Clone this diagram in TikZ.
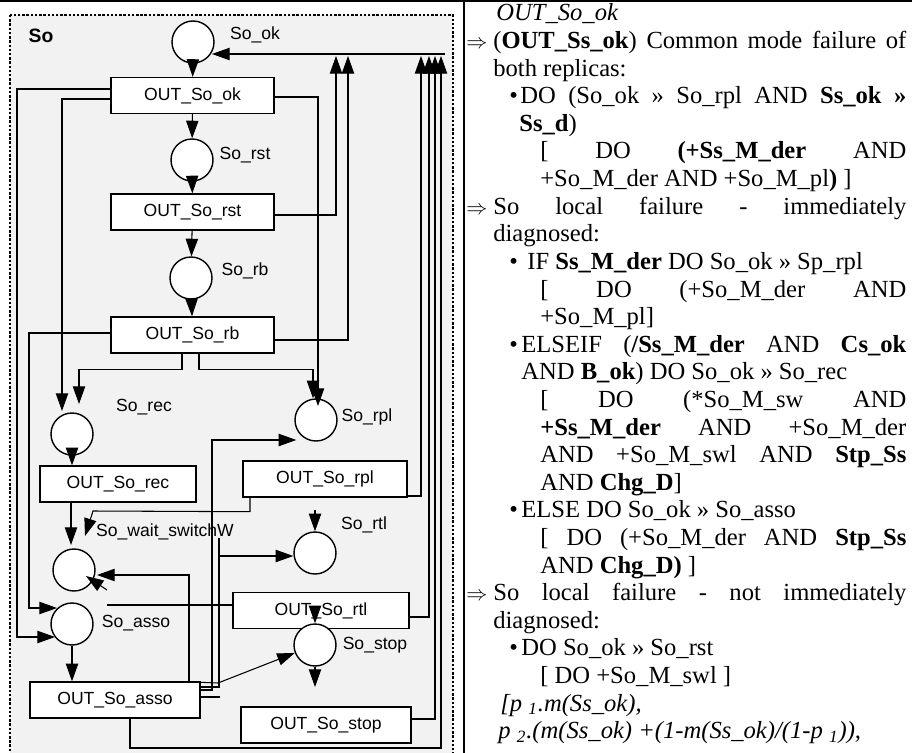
\documentclass[tikz,border=0pt]{standalone}
\usepackage{fontspec}
\setmainfont{Liberation Serif}
\setsansfont{Liberation Sans}
\usetikzlibrary{arrows.meta, positioning, calc}
\tikzstyle{place} = [circle, draw, fill=white, minimum size=0.84cm,
                     inner sep=0pt, line width=0.8pt]
\tikzstyle{trans} = [rectangle, draw, fill=white, minimum height=0.72cm,
                     inner sep=0pt, line width=0.8pt,
                     font=\sffamily\fontsize{10}{12}\selectfont]
\tikzstyle{lbl}   = [inner sep=0pt, font=\sffamily\fontsize{10}{12}\selectfont]
\tikzstyle{arrow} = [line width=0.6pt, -{Triangle[length=10pt,width=7pt]}]
\tikzstyle{wire}  = [line width=0.6pt]
\tikzstyle{txt}   = [anchor=base west, inner sep=0pt,
                     font=\fontsize{14}{16}\selectfont]
\tikzstyle{impl}  = [anchor=base west, inner sep=0pt,
                     font=\fontsize{12}{14}\selectfont]
\newlength{\pxu}\setlength{\pxu}{0.02cm}
\newcommand{\jline}[2]{\makebox[#1\pxu][s]{#2}}
\begin{document}
\begin{tikzpicture}[x=0.02cm, y=-0.02cm]
  \useasboundingbox (0,0) rectangle (912,753);

  % So module frame
  \draw[densely dotted, line width=1.4pt, fill=black!5] (10,15) rectangle (453,760);
  \node[font=\sffamily\bfseries\fontsize{11}{13}\selectfont] (sotitle) at (41,36) {So};

  % rule and text panel border
  \draw[line width=1.5pt] (0,1) -- (912,1);
  \draw[line width=0.8pt] (464,0) -- (464,753);

  % Transitions
  \node[trans, minimum width=3.26cm] (tok)   at (192.5,95.5) {OUT\_So\_ok};
  \node[trans, minimum width=3.26cm] (trst)  at (192.5,212)  {OUT\_So\_rst};
  \node[trans, minimum width=3.26cm] (trb)   at (192.5,335)  {OUT\_So\_rb};
  \node[trans, minimum width=3.12cm] (trec)  at (118,484)    {OUT\_So\_rec};
  \node[trans, minimum width=3.28cm] (trpl)  at (325,479)    {OUT\_So\_rpl};
  \node[trans, minimum width=3.52cm] (trtl)  at (321,610.5)  {OUT\_So\_rtl};
  \node[trans, minimum width=3.4cm]  (tasso) at (115,700)    {OUT\_So\_asso};
  \node[trans, minimum width=3.4cm]  (tstop) at (326,725)    {OUT\_So\_stop};

  % Places
  \node[place] (ok)   at (193,42)  {};
  \node[place] (rst)  at (192,160) {};
  \node[place] (rb)   at (191,278) {};
  \node[place] (rec)  at (72,434)  {};
  \node[place] (rpl)  at (316,420) {};
  \node[place] (wait) at (74,570)  {};
  \node[place] (rtl)  at (315,553) {};
  \node[place] (asso) at (72,624)  {};
  \node[place] (stop) at (315,645) {};

  % Place labels
  \node[lbl] (okl)   at (255,35)  {So\_ok};
  \node[lbl] (rstl)  at (245,155) {So\_rst};
  \node[lbl] (rbl)   at (245,271) {So\_rb};
  \node[lbl] (recl)  at (144,407) {So\_rec};
  \node[lbl] (rpll)  at (367,417) {So\_rpl};
  \node[lbl] (waitl) at (165,532) {So\_wait\_switchW};
  \node[lbl] (rtll)  at (364,525) {So\_rtl};
  \node[lbl] (assol) at (136,623) {So\_asso};
  \node[lbl] (stopl) at (375,645) {So\_stop};

  % main chain
  \draw[arrow] (ok) -- (tok);
  \draw[arrow] (tok) -- (rst);
  \draw[arrow] (rst) -- (trst);
  \draw[arrow] (trst) -- (rb);
  \draw[arrow] (rb) -- (trb);
  \draw[arrow] (rec) -- (rec |- trec.north);
  \draw[arrow] (asso) -- (asso |- tasso.north);

  % OUT_So_rb branches
  \draw[arrow] ($(trb.south)+(-10.5,0)$) -- ++(0,16) -| (79,404);
  \draw[arrow] ($(trb.south)+(6.5,0)$) -- ++(0,16) -| ($(rpl.north)+(-3,0)$);
  \draw[arrow] ($(trb.west)+(0,-2)$) -| (29,608) -- (57,608);

  % OUT_So_ok outputs
  \draw[arrow] ($(tok.west)+(0,3.5)$) -| (62,411);
  \draw[arrow] ($(tok.west)+(0,-6.5)$) -| (17,637) -- (55,637);
  \draw[arrow] ($(tok.east)+(0,1.5)$) -| (318,406);

  % returns to So_ok
  \coordinate (bus) at (445,54);
  \draw[arrow] (bus) -- (212,54);
  \draw[arrow] ($(trst.east)+(0,3)$) -| (336,56);
  \draw[arrow] ($(trb.east)+(0,5)$) -| (348,56);
  \draw[arrow] ($(trpl.east)+(0,17)$) -| (421,56);
  \draw[arrow] ($(trtl.east)+(0,6.5)$) -| (429,56);
  \draw[arrow] ($(tstop.east)+(0,-6)$) -| (435,56);
  \draw[arrow] ($(tasso.south)+(15,0)$) -- (130,748) -| (441,56);

  % into So_wait_switchW
  \draw[arrow] ($(trec.south)+(-47,0)$) -- (71,545);
  \draw[arrow] ($(trpl.south)+(-75,0)$) -- ++(0,14) -- (93,511) -- (85,536);
  \draw[arrow] ($(tasso.north)+(74,0)$) |- (97,575);
  \draw[arrow] (107,590) -- (86,576);

  % OUT_So_asso outputs
  \draw[arrow] ($(tasso.east)+(0,-10)$) -| (212,440) -- ($(rpl.west)+(2,20)$);
  \draw[arrow] ($(tasso.east)+(0,-13)$) -| (219,556) -- ($(rtl.west)+(0,3)$);
  \draw[wire] (219,556) -- (219,538);
  \draw[arrow] ($(tasso.north east)+(0,1)$) -- (218,683) -- (stop);
  \draw[wire] ($(tasso.east)+(0,-3)$) -- ++(19,0);
  \draw[wire] ($(trtl.west)+(0,-5.5)$) -- (107,605);

  % So_rtl and So_stop
  \draw[arrow] (315,510) -- (rtl);
  \draw[arrow] (315,606) -- (stop);
  \draw[arrow] (stop) -- (315,687);

  % Text panel
  \node[txt]  (t1)  at (496,21)    {\textit{OUT\_So\_ok}};
  \node[impl] (m2)  at (466,48.6)  {$\Rightarrow$};
  \node[txt]  (t2)  at (493,48.6)  {\jline{413}{(\textbf{OUT\_Ss\_ok}) Common mode failure of}};
  \node[txt]  (t3)  at (493,76.2)  {both replicas:};
  \node[txt]  (b4)  at (509,103.8) {\textbullet};
  \node[txt]  (t4)  at (520,103.8) {\jline{386}{DO (So\_ok » So\_rpl AND \textbf{Ss\_ok »}}};
  \node[txt]  (t5)  at (519,131.4) {\textbf{Ss\_d})};
  \node[txt]  (t6)  at (540,159)   {\jline{366}{[ DO \textbf{(+Ss\_M\_der} AND}};
  \node[txt]  (t7)  at (540,186.6) {+So\_M\_der AND +So\_M\_pl\textbf{)} ]};
  \node[impl] (m8)  at (466,214.2) {$\Rightarrow$};
  \node[txt]  (t8)  at (493,214.2) {\jline{413}{So local failure - immediately}};
  \node[txt]  (t9)  at (493,241.8) {diagnosed:};
  \node[txt]  (b10) at (509,269.4) {\textbullet};
  \node[txt]  (t10) at (527,269.4) {IF \textbf{Ss\_M\_der} DO So\_ok » Sp\_rpl};
  \node[txt]  (t11) at (540,297)   {\jline{366}{[ DO (+So\_M\_der AND}};
  \node[txt]  (t12) at (540,324.6) {+So\_M\_pl]};
  \node[txt]  (b13) at (509,352.2) {\textbullet};
  \node[txt]  (t13) at (521,352.2) {\jline{385}{ELSEIF (\textbf{/Ss\_M\_der} AND \textbf{Cs\_ok}}};
  \node[txt]  (t14) at (521,379.8) {AND \textbf{B\_ok}) DO So\_ok » So\_rec};
  \node[txt]  (t15) at (540,407.4) {\jline{366}{[ DO (*So\_M\_sw AND}};
  \node[txt]  (t16) at (540,435)   {\jline{366}{\textbf{+Ss\_M\_der} AND +So\_M\_der}};
  \node[txt]  (t17) at (540,462.6) {\jline{366}{AND +So\_M\_swl AND \textbf{Stp\_Ss}}};
  \node[txt]  (t18) at (540,490.2) {AND \textbf{Chg\_D}]};
  \node[txt]  (b19) at (509,517.8) {\textbullet};
  \node[txt]  (t19) at (521,517.8) {ELSE DO So\_ok » So\_asso};
  \node[txt]  (t20) at (540,545.4) {\jline{366}{[ DO (+So\_M\_der AND \textbf{Stp\_Ss}}};
  \node[txt]  (t21) at (540,573)   {AND \textbf{Chg\_D)} ]};
  \node[impl] (m22) at (466,600.6) {$\Rightarrow$};
  \node[txt]  (t22) at (493,600.6) {\jline{413}{So local failure - not immediately}};
  \node[txt]  (t23) at (493,628.2) {diagnosed:};
  \node[txt]  (b24) at (509,655.8) {\textbullet};
  \node[txt]  (t24) at (521,655.8) {DO So\_ok » So\_rst};
  \node[txt]  (t25) at (540,683.4) {[ DO +So\_M\_swl ]};
  \node[txt]  (t26) at (500,711)   {\textit{[p~\textsubscript{1}.m(Ss\_ok),}};
  \node[txt]  (t27) at (498,738.6) {\textit{p~\textsubscript{2}.(m(Ss\_ok) +(1-m(Ss\_ok)/(1-p~\textsubscript{1})),}};

\end{tikzpicture}
\end{document}
